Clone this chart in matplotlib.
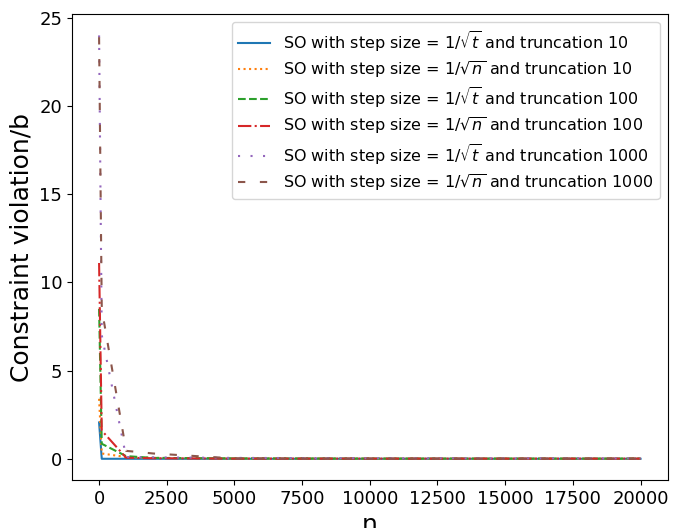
import matplotlib
matplotlib.use("Agg")
import matplotlib.pyplot as plt

n_values = [1, 100, 1000, 2000, 5000, 10000, 20000]

sqrt_t_trunc10 = [2.06, 0.0, 0.0, 0.0, 0.0, 0.0, 0.0]
sqrt_n_trunc10 = [3.4, 0.3, 0.1, 0.05, 0.02, 0.01, 0.005]
sqrt_t_trunc100 = [8.5, 0.85, 0.15, 0.05, 0.02, 0.01, 0.01]
sqrt_n_trunc100 = [11.1, 1.6, 0.06, 0.03, 0.01, 0.01, 0.01]
sqrt_t_trunc1000 = [24.0, 7.0, 0.1, 0.08, 0.05, 0.03, 0.02]
sqrt_n_trunc1000 = [23.9, 8.5, 0.45, 0.3, 0.02, 0.01, 0.01]

labels = [
    r"SO with step size = $1/\sqrt{t}$ and truncation 10",
    r"SO with step size = $1/\sqrt{n}$ and truncation 10",
    r"SO with step size = $1/\sqrt{t}$ and truncation 100",
    r"SO with step size = $1/\sqrt{n}$ and truncation 100",
    r"SO with step size = $1/\sqrt{t}$ and truncation 1000",
    r"SO with step size = $1/\sqrt{n}$ and truncation 1000",
]
series = [sqrt_t_trunc10, sqrt_n_trunc10, sqrt_t_trunc100,
          sqrt_n_trunc100, sqrt_t_trunc1000, sqrt_n_trunc1000]
styles = ["-", ":", "--", "-.", (0, (1, 5)), (0, (3.5, 7))]

fig = plt.figure(figsize=(6.73, 5.28), dpi=100)
ax = fig.add_axes([0.107, 0.091, 0.885, 0.882])
for y, lab, ls in zip(series, labels, styles):
    ax.plot(n_values, y, linestyle=ls, linewidth=1.5, label=lab)

ax.set_xlabel("n", fontsize=18)
ax.set_ylabel("Constraint violation/b", fontsize=18)
ax.tick_params(axis="both", labelsize=13)
ax.set_xticks([0, 2500, 5000, 7500, 10000, 12500, 15000, 17500, 20000])
ax.legend(loc="upper right", fontsize=11.5, labelspacing=0.33)
fig.savefig("out.png", dpi=100)
